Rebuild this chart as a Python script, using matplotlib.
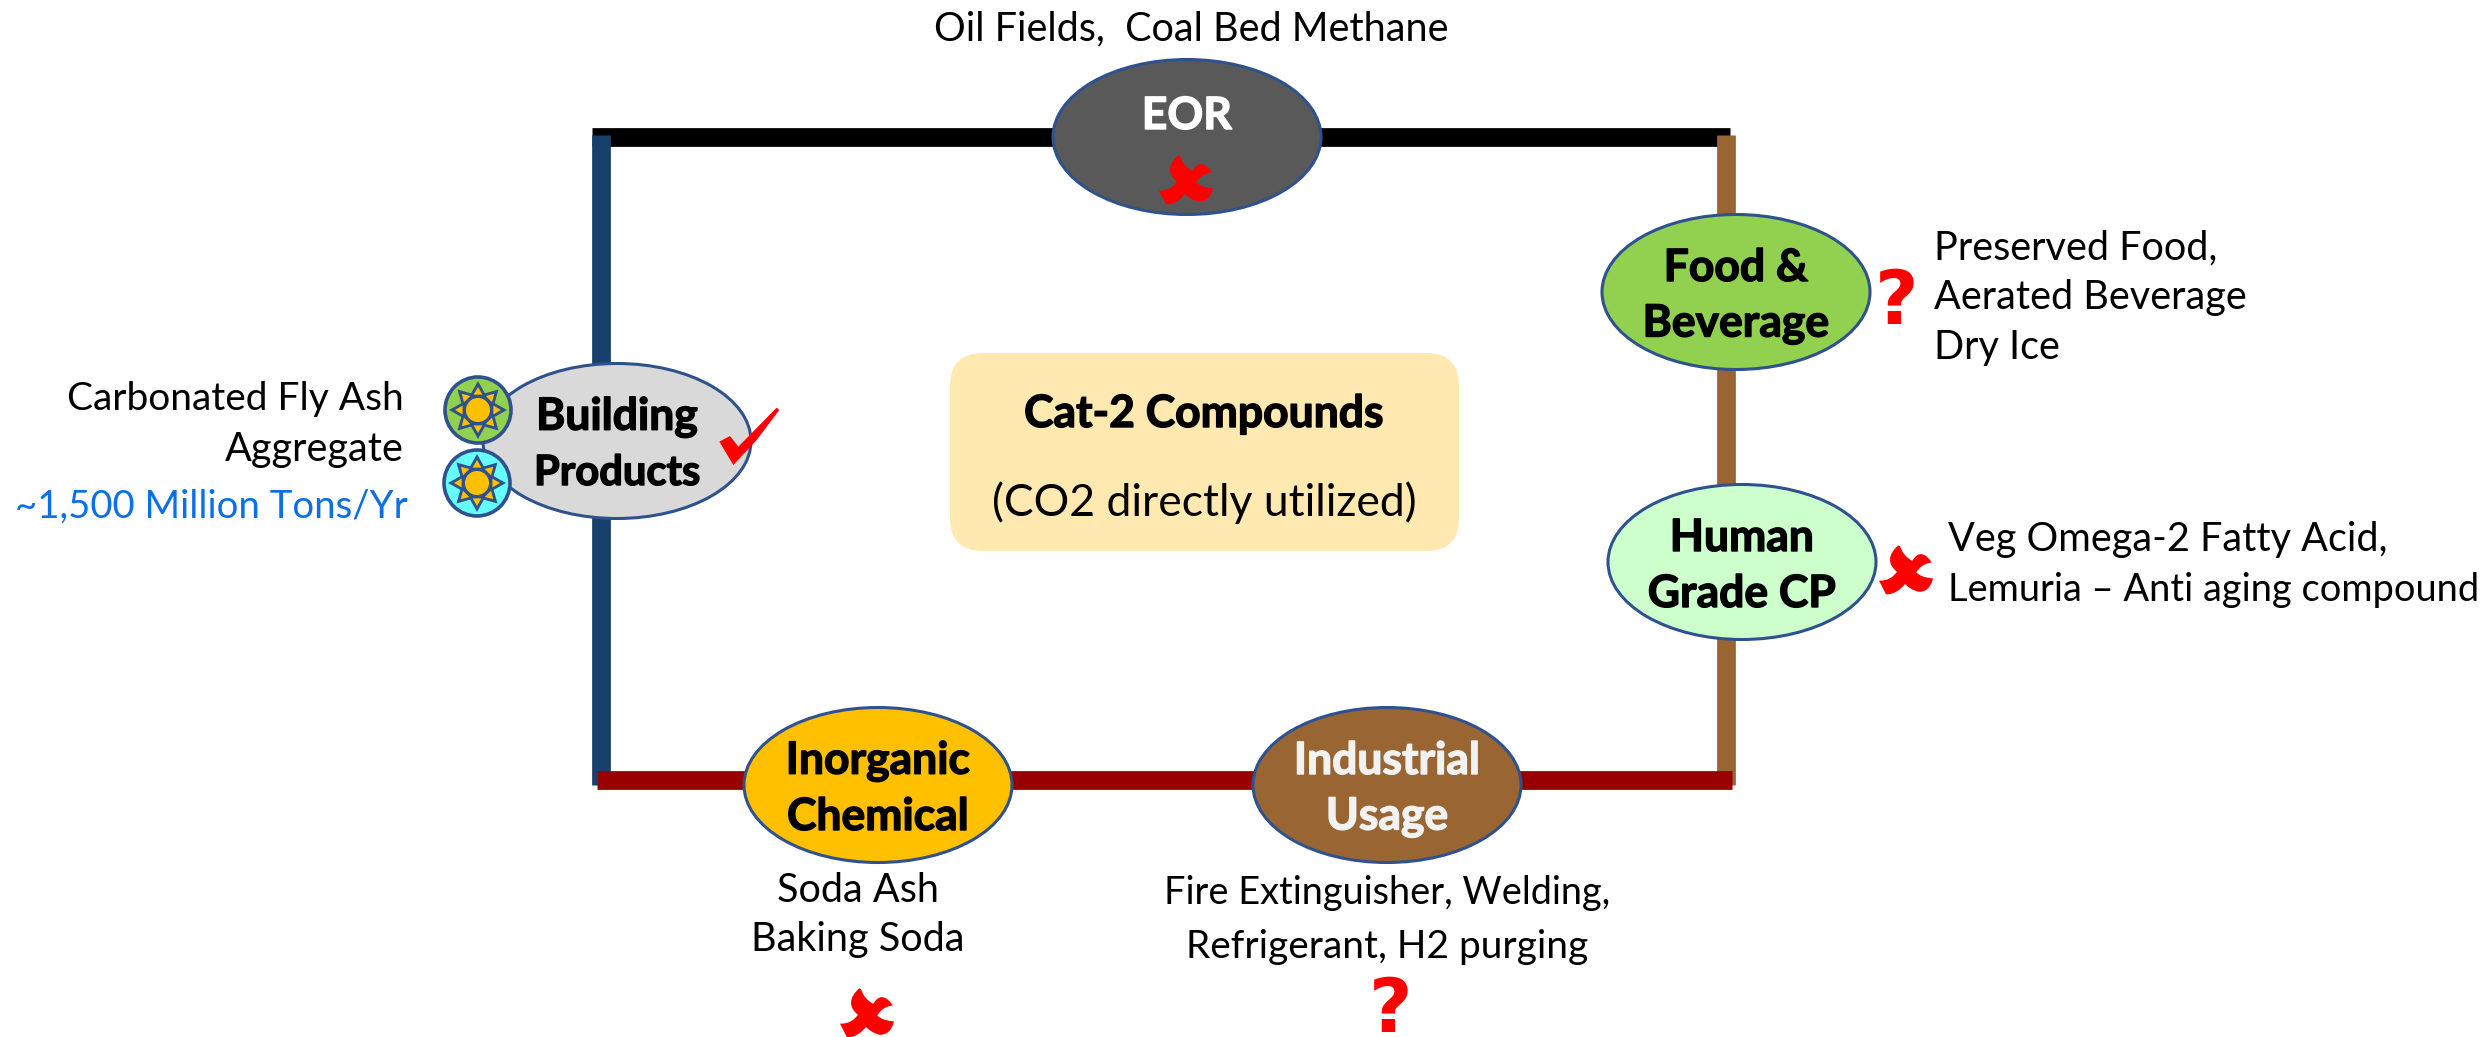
import matplotlib
matplotlib.use('Agg')
import matplotlib.pyplot as plt
import matplotlib.patheffects as pe
import numpy as np
from matplotlib.patches import Ellipse, Circle, FancyBboxPatch, PathPatch, Polygon
from matplotlib.path import Path

plt.rcParams['font.family'] = ['Lato', 'DejaVu Sans']

# Text of the chart
node_labels = [['EOR'], ['Building', 'Products'], ['Food &', 'Beverage'],
               ['Human', 'Grade CP'], ['Inorganic', 'Chemical'], ['Industrial', 'Usage']]
node_colors = ['#595959', '#D9D9D9', '#92D050', '#CCFFCC', '#FFC000', '#996633']
node_text_colors = ['white', 'black', 'black', 'black', 'black', '#F2F2F2']
center_title = 'Cat-2 Compounds'
center_sub = '(CO2 directly utilized)'
blue_note = '~1,500 Million Tons/Yr'

W, H = 2492, 1037
EDGE = '#2F528F'
RED = '#FF0000'
BODY = 28.5
BOLD = 32


def add_cross(ax, cx, cy, scale=1.0):
    # drawn from the reference shape, units are zoomed pixels around the centre
    pts = [(537, 288), (545, 320), (578, 337), (600, 295), (630, 335), (600, 340), (585, 368),
           (600, 385), (635, 388), (625, 425), (595, 422), (570, 415), (555, 397),
           (530, 430), (500, 430), (490, 410), (482, 395), (515, 395), (535, 365),
           (490, 330), (537, 288)]
    codes = [Path.MOVETO] + [Path.CURVE3] * (len(pts) - 1)
    verts = [(cx + (x - 558) / 3 * scale, cy + (y - 360) / 3 * scale) for x, y in pts]
    ax.add_patch(PathPatch(Path(verts, codes), fc=RED, ec=RED, lw=1.5, zorder=6))


def add_sun(ax, cx, cy, color):
    ax.add_patch(Circle((cx, cy), 33, fc=color, ec=EDGE, lw=2.6, zorder=5))
    ang = np.arange(16) * np.pi / 8 - np.pi / 2
    rad = np.where(np.arange(16) % 2 == 0, 29, 18)
    ax.add_patch(Polygon(np.c_[cx + rad * np.cos(ang), cy + rad * np.sin(ang)],
                         fc=EDGE, ec='none', zorder=6))
    for a in ang[::2]:
        tri = [(cx + 23 * np.cos(a), cy + 23 * np.sin(a)),
               (cx + 16 * np.cos(a + 0.28), cy + 16 * np.sin(a + 0.28)),
               (cx + 16 * np.cos(a - 0.28), cy + 16 * np.sin(a - 0.28))]
        ax.add_patch(Polygon(tri, fc='#FFC000', ec='none', zorder=7))
    ax.add_patch(Circle((cx, cy), 12, fc='#FFC000', ec='none', zorder=8))


def bold_text(ax, x, y, s, color='black', size=BOLD):
    # the reference face is heavier than Lato Bold, so thicken it a little
    ax.text(x, y, s, color=color, fontsize=size, fontweight='bold', ha='center', va='center', zorder=9,
            path_effects=[pe.withStroke(linewidth=1.0, foreground=color)])


fig = plt.figure(figsize=(W / 100, H / 100), dpi=100)
ax = fig.add_axes([0, 0, 1, 1])
ax.set_xlim(0, W)
ax.set_ylim(H, 0)
ax.axis('off')

# Loop of thick lines
ax.plot([592, 1730], [137, 137], color='black', lw=13.5, solid_capstyle='butt', zorder=1)
ax.plot([601, 601], [135, 785], color='#17406D', lw=13.5, solid_capstyle='butt', zorder=1)
ax.plot([1726, 1726], [135, 785], color='#996633', lw=13.5, solid_capstyle='butt', zorder=1)
ax.plot([597, 1732], [780, 780], color='#990000', lw=13.5, solid_capstyle='butt', zorder=2)

# Nodes
centers = [(1187, 137), (617, 441), (1736, 292), (1742, 562), (878, 785), (1387, 785)]
for (cx, cy), lab, col, tcol in zip(centers, node_labels, node_colors, node_text_colors):
    ax.add_patch(Ellipse((cx, cy), 268, 155, fc=col, ec=EDGE, lw=2.2, zorder=3))
    if len(lab) == 1:
        bold_text(ax, cx, 116, lab[0], tcol)
    else:
        bold_text(ax, cx, cy - 24, lab[0], tcol)
        bold_text(ax, cx, cy + 32, lab[1], tcol, size=30 if lab[1] == 'Products' else BOLD)

# Centre box
ax.add_patch(FancyBboxPatch((950, 353), 509, 198, boxstyle='round,pad=0,rounding_size=33',
                            fc='#FFE9B0', ec='none', zorder=1))
bold_text(ax, 1204, 414, center_title)
ax.text(1204, 503, center_sub, fontsize=32, ha='center', va='center')

# Notes around the nodes
ax.text(1191, 29, 'Oil Fields,  Coal Bed Methane', fontsize=BODY, ha='center', va='center')
ax.text(404, 399, 'Carbonated Fly Ash', fontsize=28, ha='right', va='center')
ax.text(404, 450, 'Aggregate', fontsize=BODY, ha='right', va='center')
ax.text(408, 507, blue_note, fontsize=27.6, color='#0B6FE8', ha='right', va='center')
ax.text(1934, 248, 'Preserved Food,', fontsize=BODY, ha='left', va='center')
ax.text(1934, 298, 'Aerated Beverage', fontsize=BODY, ha='left', va='center')
ax.text(1934, 348, 'Dry Ice', fontsize=BODY, ha='left', va='center')
ax.text(1948, 539, 'Veg Omega-2 Fatty Acid,', fontsize=BODY, ha='left', va='center')
ax.text(1948, 590, 'Lemuria – Anti aging compound', fontsize=27.4, ha='left', va='center')
ax.text(858, 890, 'Soda Ash', fontsize=BODY, ha='center', va='center')
ax.text(858, 940, 'Baking Soda', fontsize=BODY, ha='center', va='center')
ax.text(1387, 893, 'Fire Extinguisher, Welding,', fontsize=27.3, ha='center', va='center')
ax.text(1387, 947, 'Refrigerant, H2 purging', fontsize=28, ha='center', va='center')

# Sun icons on the building node
add_sun(ax, 478, 410, '#92D050')
add_sun(ax, 477, 483, '#66FFFF')

# Status marks
add_cross(ax, 1186, 180)
add_cross(ax, 1906, 570)
add_cross(ax, 867, 1013)
check = [(958, 305), (990, 288), (1015, 320), (1130, 203), (1138, 210), (1070, 300), (1000, 375)]
ax.add_patch(Polygon([(400 + x / 3, 340 + y / 3) for x, y in check], fc=RED, ec='none', zorder=6))
ax.text(1897, 304, '?', color=RED, fontsize=54, fontweight='bold', family='DejaVu Sans',
        ha='center', va='center', zorder=6)
ax.text(1391, 1011, '?', color=RED, fontsize=54, fontweight='bold', family='DejaVu Sans',
        ha='center', va='center', zorder=6)

fig.savefig('out.png', dpi=100)
